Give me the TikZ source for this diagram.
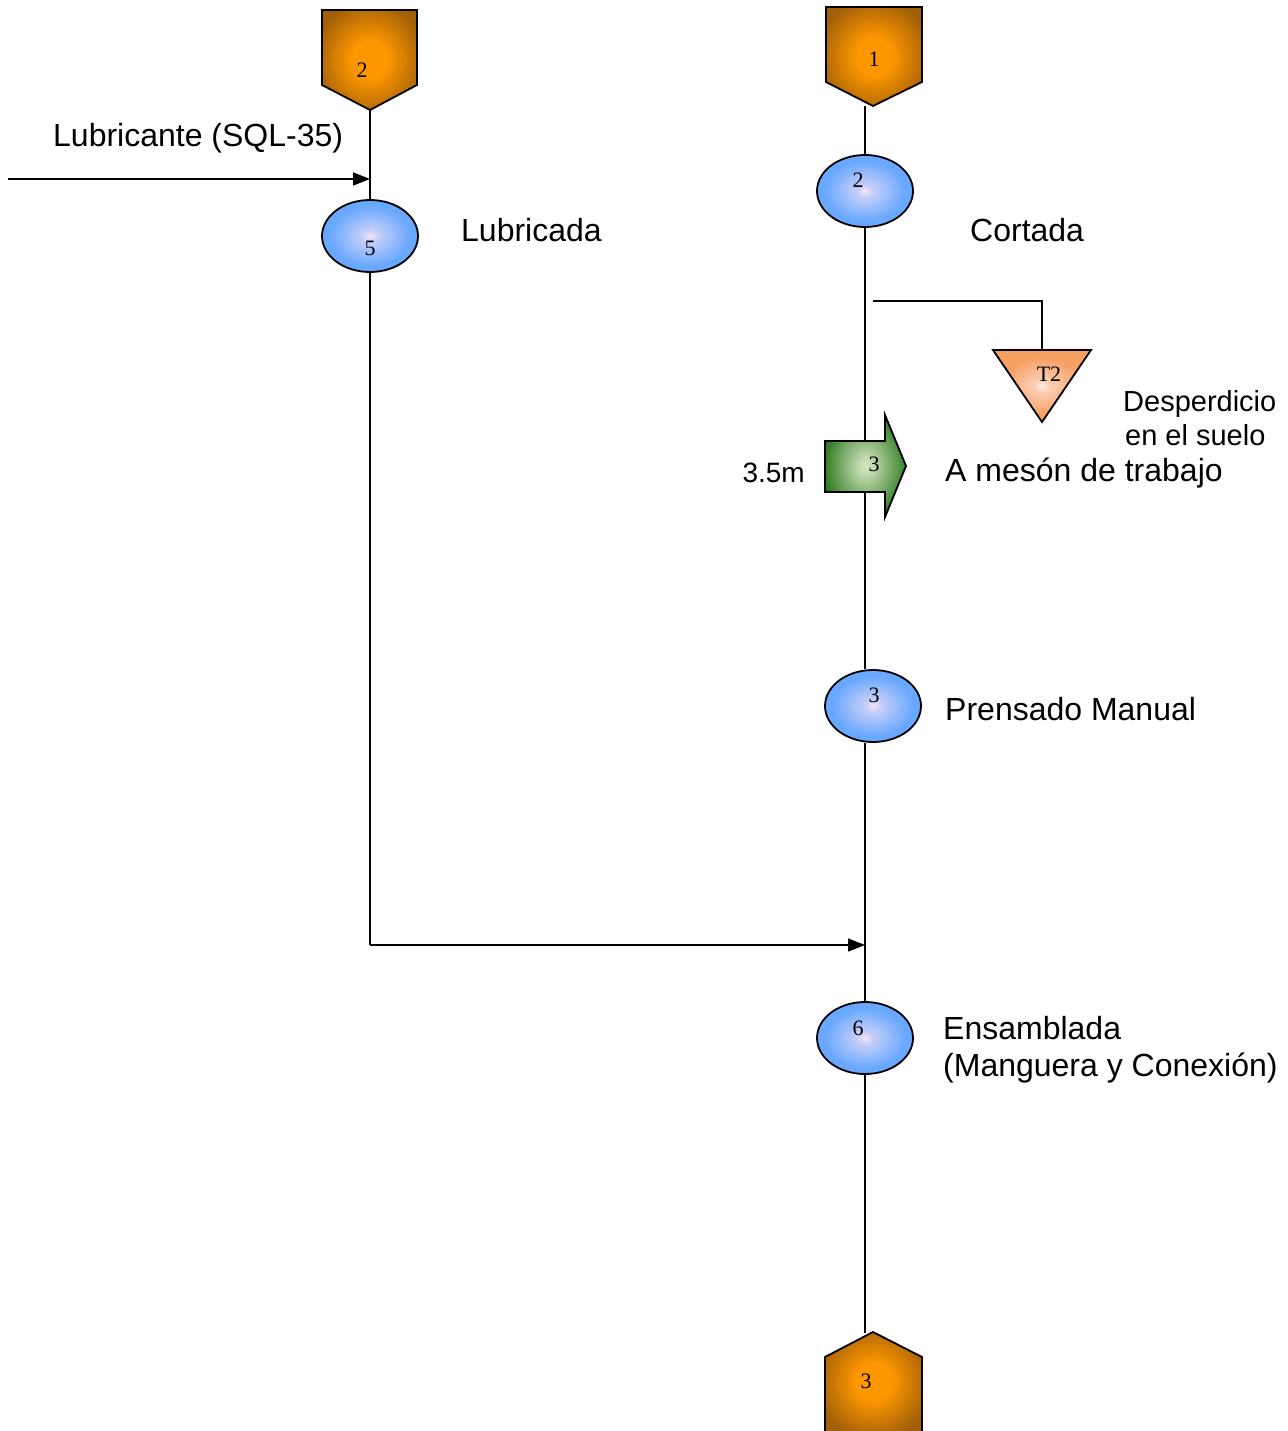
\documentclass[tikz,border=0pt]{standalone}
\usepackage{fontspec}
\setmainfont{Liberation Sans}
\newfontfamily\numfont{Liberation Serif}
\usetikzlibrary{shapes.geometric,arrows.meta,backgrounds}

\definecolor{boxin}{RGB}{255,152,0}
\definecolor{boxout}{RGB}{160,95,8}
\definecolor{opin}{RGB}{248,228,245}
\definecolor{opout}{RGB}{105,168,255}
\definecolor{movin}{RGB}{215,232,195}
\definecolor{movout}{RGB}{40,118,28}
\definecolor{wastein}{RGB}{255,238,235}
\definecolor{wasteout}{RGB}{246,160,100}

% centre-to-edge gradients for the symbols (25bp = edge of the shape)
\pgfdeclareradialshading{boxshade}{\pgfpoint{0bp}{0bp}}{%
  color(0bp)=(boxin); color(9bp)=(boxin); color(30bp)=(boxout); color(50bp)=(boxout)}
\pgfdeclareradialshading{opshade}{\pgfpoint{0bp}{0bp}}{%
  color(0bp)=(opin); color(4bp)=(opin!65!opout); color(21bp)=(opout); color(50bp)=(opout)}
\pgfdeclareradialshading{movshade}{\pgfpoint{0bp}{0bp}}{%
  color(0bp)=(movin); color(5bp)=(movin!85!movout); color(27bp)=(movout); color(50bp)=(movout)}
\pgfdeclareradialshading{wasteshade}{\pgfpoint{0bp}{0bp}}{%
  color(0bp)=(wastein); color(4bp)=(wastein!60!wasteout); color(20bp)=(wasteout); color(50bp)=(wasteout)}

\begin{document}
\begin{tikzpicture}[x=1pt,y=-1pt,
  flow/.style={line width=1.6pt},
  flowarrow/.style={flow,-{Triangle[length=17pt,width=13pt]}},
  outline/.style={line width=1.8pt,line join=miter},
  opnode/.style={ellipse,draw,line width=1.8pt,shade,shading=opshade,
    minimum width=96pt,minimum height=72pt,inner sep=0pt},
  numlbl/.style={font=\numfont\fontsize{22}{24}\selectfont,inner sep=0pt},
  txt/.style={font=\fontsize{32}{38}\selectfont,inner sep=0pt,anchor=base west},
  smalltxt/.style={font=\fontsize{29}{34}\selectfont,inner sep=0pt,anchor=base west}
]
\useasboundingbox (0,0) rectangle (1287,1431);

% storage / start symbols
\shadedraw[outline,shading=boxshade]
  (322,10) -- (417,10) -- (417,85) -- (370,110) -- (322,85) -- cycle;
\node[numlbl] (lbl-s2) at (362,70) {2};
\coordinate (s2tip) at (370,110);

\shadedraw[outline,shading=boxshade]
  (826,7) -- (922,7) -- (922,82) -- (873,106) -- (826,82) -- cycle;
\node[numlbl] (lbl-s1) at (874,59) {1};
\coordinate (s1tip) at (865,106);

\shade[shading=boxshade]
  (825,1431) -- (825,1357) -- (873,1332) -- (922,1357) -- (922,1431) -- cycle;
\draw[outline] (825,1431) -- (825,1357) -- (873,1332) -- (922,1357) -- (922,1431);
\node[numlbl] (lbl-s3) at (866,1381) {3};
\coordinate (s3tip) at (865,1333);

% operations
\node[opnode] (e5) at (370,236) {};
\node[numlbl] (lbl-e5) at (370,248) {5};
\node[opnode] (e2) at (865,191) {};
\node[numlbl] (lbl-e2) at (858,180) {2};
\node[opnode] (e3) at (873,706) {};
\node[numlbl] (lbl-e3) at (874,695) {3};
\node[opnode] (e6) at (865,1038) {};
\node[numlbl] (lbl-e6) at (858,1028) {6};

% waste triangle
\shadedraw[outline,shading=wasteshade]
  (993,350) -- (1091,350) -- (1042,422) -- cycle;
\coordinate (t2top) at (1042,350);
\node[numlbl] (lbl-t2) at (1049,374) {T2};

% transport arrow
\shadedraw[outline,shading=movshade]
  (825,441) -- (885,441) -- (885,415) -- (906,466) -- (885,517) -- (885,492) -- (825,492) -- cycle;
\node[numlbl] (lbl-tr) at (874,464) {3};

% join points
\coordinate (lubin) at (8,179);
\coordinate (lubjoin) at (370,179);
\coordinate (join1) at (370,945);
\coordinate (join2) at (865,945);
\coordinate (wastefrom) at (873,301);

\begin{scope}[on background layer]
  \draw[flow] (s2tip) -- (e5.north);
  \draw[flowarrow] (lubin) -- (lubjoin);
  \draw[flow] (e5.south) -- (join1);
  \draw[flowarrow] (join1) -- (join2);
  \draw[flow] (s1tip) -- (e2.north);
  \draw[flow] (e2.south) -- (e2.south |- e3.north);
  \draw[flow] (wastefrom) -| (t2top);
  \draw[flow] (e2.south |- e3.south) -- (e6.north);
  \draw[flow] (e6.south) -- (s3tip);
\end{scope}

% texts
\node[txt] (t-lub) at (53,147) {Lubricante (SQL-35)};
\node[txt] (t-lubr) at (461,242) {Lubricada};
\node[txt] (t-cort) at (970,242) {Cortada};
\node[smalltxt] (t-desp1) at (1123,411) {Desperdicio};
\node[smalltxt] (t-desp2) at (1125,445) {en el suelo};
\node[txt,font=\fontsize{28}{34}\selectfont,anchor=base east] (t-dist) at (805,482) {3.5m};
\node[txt] (t-meson) at (945,481) {A mesón de trabajo};
\node[txt] (t-prens) at (945,720) {Prensado Manual};
\node[txt] (t-ens1) at (943,1039) {Ensamblada};
\node[txt] (t-ens2) at (943,1076) {(Manguera y Conexión)};
\end{tikzpicture}
\end{document}
